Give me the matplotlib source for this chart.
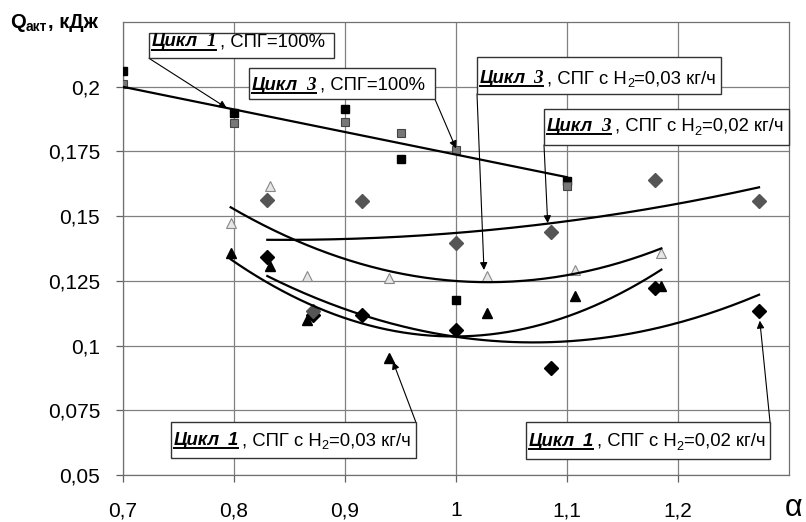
import matplotlib
matplotlib.use('Agg')
import matplotlib.pyplot as plt
import numpy as np
from matplotlib.transforms import IdentityTransform
from matplotlib.patches import Rectangle
from matplotlib.lines import Line2D

# ---------------- data ----------------
x_ticks = [0.7, 0.8, 0.9, 1.0, 1.1, 1.2]
x_tick_labels = ['0,7', '0,8', '0,9', '1', '1,1', '1,2']
y_ticks = [0.05, 0.075, 0.1, 0.125, 0.15, 0.175, 0.2]
y_tick_labels = ['0,05', '0,075', '0,1', '0,125', '0,15', '0,175', '0,2']

# Цикл 1, СПГ=100% (black squares)
c1_100_x = [0.7, 0.8, 0.9, 0.95, 1.0, 1.1]
c1_100_y = [0.206, 0.190, 0.1915, 0.172, 0.1175, 0.1635]
# Цикл 3, СПГ=100% (gray squares)
c3_100_x = [0.7, 0.8, 0.9, 0.95, 1.0, 1.1]
c3_100_y = [0.201, 0.186, 0.1865, 0.182, 0.1755, 0.1615]
# Цикл 3, H2=0,03 (light open triangles)
c3_003_x = [0.797, 0.832, 0.866, 0.94, 1.028, 1.107, 1.185]
c3_003_y = [0.1472, 0.1617, 0.1267, 0.126, 0.1267, 0.1292, 0.1357]
# Цикл 1, H2=0,03 (black triangles)
c1_003_x = [0.797, 0.832, 0.866, 0.94, 1.028, 1.107, 1.185]
c1_003_y = [0.1357, 0.1308, 0.110, 0.0953, 0.1126, 0.1192, 0.1231]
# Цикл 3, H2=0,02 (dark gray diamonds)
c3_002_x = [0.83, 0.871, 0.915, 1.0, 1.086, 1.179, 1.273]
c3_002_y = [0.1562, 0.1132, 0.1558, 0.1397, 0.144, 0.1638, 0.1558]
# Цикл 1, H2=0,02 (black diamonds)
c1_002_x = [0.83, 0.871, 0.915, 1.0, 1.086, 1.179, 1.273]
c1_002_y = [0.1344, 0.1120, 0.1119, 0.1059, 0.0912, 0.1222, 0.1132]

# trend lines (polynomial trend)
t100_x = [0.7, 0.9, 1.1]
t100_y = [0.2, 0.1824, 0.1651]
t3_002_x = [0.83, 0.9, 0.95, 1.08, 1.2, 1.273]
t3_002_y = [0.141, 0.141, 0.142, 0.147, 0.155, 0.161]
t3_003_x = [0.797, 0.9, 1.0, 1.107, 1.185]
t3_003_y = [0.1542, 0.1318, 0.1251, 0.1295, 0.1365]
t1_003_x = [0.797, 0.9, 1.0, 1.1, 1.185]
t1_003_y = [0.1339, 0.1093, 0.104, 0.112, 0.1288]
t1_002_x = [0.83, 0.9, 1.0, 1.1, 1.2, 1.273]
t1_002_y = [0.1276, 0.1126, 0.1042, 0.1017, 0.1087, 0.1196]

# ---------------- figure ----------------
W, H = 806, 522
fig = plt.figure(figsize=(W / 100, H / 100), dpi=100)
ax = fig.add_axes([123 / W, 1 - 475 / H, (789 - 123) / W, (475 - 22) / H])
ax.set_xlim(0.7, 1.3)
ax.set_ylim(0.05, 0.225)
ax.set_xticks(x_ticks)
ax.set_xticklabels(x_tick_labels, fontsize=15, family='Liberation Sans')
ax.set_yticks(y_ticks)
ax.set_yticklabels(y_tick_labels, fontsize=15, family='Liberation Sans')
ax.tick_params(axis='both', direction='out', length=5, width=0.9, color='#606060')
ax.tick_params(axis='y', pad=11.5)
ax.tick_params(axis='x', pad=14)
ax.grid(True, color='#808080', lw=0.9)
ax.set_axisbelow(True)
for sp in ax.spines.values():
    sp.set_color('#707070')
    sp.set_linewidth(0.9)

# markers
ax.plot(c1_100_x, c1_100_y, ls='none', marker='s', ms=6, mfc='black', mec='black', zorder=3)
ax.plot(c3_100_x, c3_100_y, ls='none', marker='s', ms=6, mfc='#777777', mec='#444444', mew=0.8, zorder=3)
ax.plot(c1_002_x, c1_002_y, ls='none', marker='D', ms=7.2, mfc='black', mec='black', zorder=3)
ax.plot(c3_002_x, c3_002_y, ls='none', marker='D', ms=7.2, mfc='#555555', mec='#555555', zorder=3)
ax.plot(c1_003_x, c1_003_y, ls='none', marker='^', ms=7, mfc='black', mec='black', zorder=3)
ax.plot(c3_003_x, c3_003_y, ls='none', marker='^', ms=7.5, mfc='#e6e6e6', mec='#888888', mew=0.8, zorder=3)

# trend lines
for tx, ty, deg in [(t100_x, t100_y, 1), (t3_002_x, t3_002_y, 2), (t3_003_x, t3_003_y, 2),
                    (t1_003_x, t1_003_y, 2), (t1_002_x, t1_002_y, 2)]:
    coef = np.polyfit(tx, ty, deg)
    xx = np.linspace(min(tx), max(tx), 200)
    ax.plot(xx, np.polyval(coef, xx), color='black', lw=1.6, zorder=4)

# ---------------- annotations ----------------
renderer = fig.canvas.get_renderer()
ID = IdentityTransform()

SANS = 'Liberation Sans'
SERIF = 'Liberation Serif'
FS = 13.3
BI = dict(family=SANS, weight='bold', style='italic', fontsize=FS)
SBI = dict(family=SERIF, weight='bold', style='italic', fontsize=FS + 0.5)
R = dict(family=SANS, fontsize=FS)
SUB = dict(family=SANS, fontsize=9.2)


def layout(x0, base_top, pieces, z=8, ul_off=3.0):
    x = x0
    yb = H - base_top
    segs = []
    ul_start = None
    ul_end = None
    for s, props, dy, gap, ul in pieces:
        t = fig.text(x, yb + dy, s, transform=ID, ha='left', va='baseline', zorder=z, **props)
        bb = t.get_window_extent(renderer=renderer)
        if ul:
            if ul_start is None:
                ul_start = x
            ul_end = bb.x1
        else:
            if ul_start is not None:
                segs.append((ul_start, ul_end))
                ul_start = None
        x = bb.x1 + gap
    if ul_start is not None:
        segs.append((ul_start, ul_end))
    for a, b in segs:
        fig.add_artist(Line2D([a, b], [yb - ul_off, yb - ul_off], transform=ID,
                              color='black', lw=1.4, zorder=z))


def box(l, t, r, b, z=7):
    fig.add_artist(Rectangle((l, H - b), r - l, b - t, transform=ID, facecolor='white',
                             edgecolor='#333333', lw=1.0, zorder=z))


def arrow(corner, target):
    ax.annotate('', xy=target, xycoords='data', xytext=(corner[0], H - corner[1]),
                textcoords='figure pixels', annotation_clip=False,
                arrowprops=dict(arrowstyle='-|>', color='black', lw=0.8,
                                shrinkA=0, shrinkB=0, mutation_scale=11), zorder=6)


def h2_pieces(num, digit_props, tail):
    return [('Цикл', BI, 0, 8, True), (num, digit_props, 0, 4, True),
            (', СПГ с H', R, 0, 0, False), ('2', SUB, -4, 0, False), (tail, R, 0, 0, False)]


# Box 1: Цикл 1, СПГ=100%
box(149, 32.7, 334.3, 58.3)
layout(152, 46.5, [('Цикл', BI, 0, 8, True), ('1', SBI, 0, 4, True), (', СПГ=100%', R, 0, 0, False)])
arrow((149, 58.3), (0.7934, 0.1918))

# Box 2: Цикл 3, СПГ=100%
box(249.3, 68.3, 435, 99.3)
layout(252, 90, [('Цикл', BI, 0, 8, True), ('3', SBI, 0, 4, True), (', СПГ=100%', R, 0, 0, False)])
arrow((435, 99.3), (1.0, 0.1762))

# Box 3: Цикл 3, H2=0,03
box(476.7, 57.3, 720.7, 94)
layout(479.5, 83.3, h2_pieces('3', SBI, '=0,03 кг/ч'))
arrow((477, 94), (1.0252, 0.1292))

# Box 4: Цикл 3, H2=0,02
box(544, 109, 788.7, 145)
layout(547, 130.7, h2_pieces('3', SBI, '=0,02 кг/ч'))
arrow((544, 145), (1.0826, 0.1473))

# Box 5: Цикл 1, H2=0,03
box(171, 421.7, 415.7, 458.3)
layout(173.5, 445, h2_pieces('1', BI, '=0,03 кг/ч'))
arrow((415.7, 421.7), (0.9432, 0.0938))

# Box 6: Цикл 1, H2=0,02
box(526, 421.7, 770, 459)
layout(528.5, 445.5, h2_pieces('1', BI, '=0,02 кг/ч'))
arrow((770, 421.7), (1.2737, 0.1096))

# axis titles
QB = dict(family=SANS, weight='bold', fontsize=14.5)
QS = dict(family=SANS, weight='bold', fontsize=10)
layout(10, 27.5, [('Q', QB, 0, 0, False), ('акт', QS, -3.5, 1, False), (', кДж', QB, 0, 0, False)])
fig.text(794, H - 508, 'α', transform=ID, ha='center', va='center', fontsize=22, family=SANS)

fig.savefig('out.png', dpi=100)
